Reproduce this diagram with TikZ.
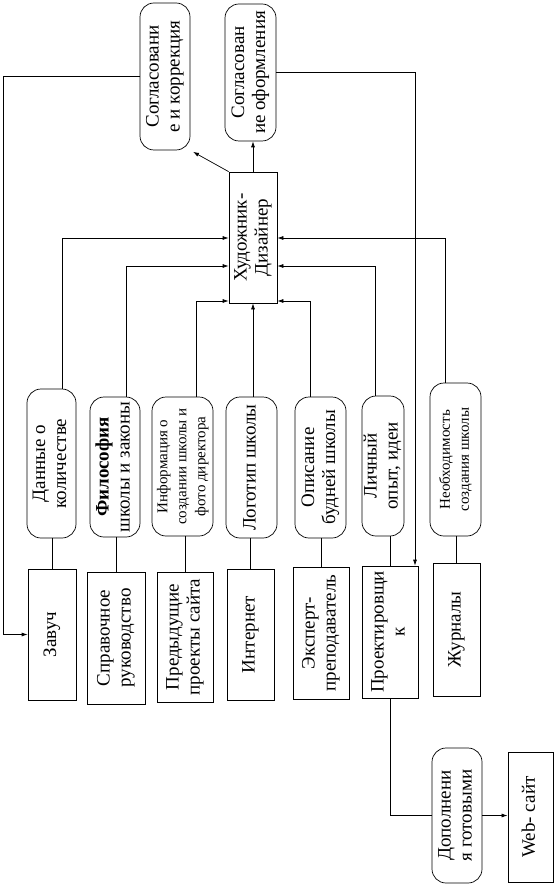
\documentclass[tikz,border=0pt]{standalone}
\usepackage{fontspec}
\setmainfont{Liberation Serif}
\usetikzlibrary{arrows.meta}
\newcommand{\rt}[1]{\rotatebox{90}{\begin{tabular}{@{}c@{}}#1\end{tabular}}}
\begin{document}
\begin{tikzpicture}[x=1pt,y=-1pt, line width=0.7pt,
  rbox/.style={draw, rounded corners=14pt, inner sep=0pt, align=center},
  sbox/.style={draw, inner sep=0pt, align=center},
  big/.style={font=\fontsize{19}{21}\selectfont},
  small/.style={font=\fontsize{15}{19}\selectfont},
  arr/.style={-{Latex[length=6pt,width=4pt]}}]
\useasboundingbox (0,0) rectangle (554,885);
% top
\node[rbox,big,minimum width=50pt,minimum height=147pt] (korr) at (165,76.5) {\rt{Согласовани\\е и коррекция}};
\node[rbox,big,minimum width=51pt,minimum height=137pt] (oform) at (250.5,72.5) {\rt{Согласован\\ие оформления}};
\node[sbox,big,minimum width=48pt,minimum height=131pt] (artist) at (253,237.5) {\rt{Художник-\\Дизайнер}};
% rounded inputs
\node[rbox,big,minimum width=49pt,minimum height=149pt] (dannye) at (51.5,463.5) {\rt{Данные о\\количестве}};
\node[rbox,big,minimum width=50pt,minimum height=140pt] (filos) at (115,467) {\rt{\textbf{Философия}\\школы и законы}};
\node[rbox,small,minimum width=61pt,minimum height=139pt] (info) at (182.5,466.5) {\rt{Информация о\\создании школы и\\фото директора}};
\node[rbox,big,minimum width=51pt,minimum height=141pt] (logo) at (251.5,467.5) {\rt{Логотип школы}};
\node[rbox,big,minimum width=51pt,minimum height=141pt] (opis) at (320.5,467.5) {\rt{Описание\\будней школы}};
\node[rbox,big,minimum width=42pt,minimum height=140pt] (lichn) at (383,466) {\rt{Личный\\опыт, идеи}};
\node[rbox,small,minimum width=51pt,minimum height=153pt] (neobh) at (455.5,459.5) {\rt{Необходимость\\создания школы}};
% sources
\node[sbox,big,minimum width=48pt,minimum height=131pt] (zavuch) at (52,634.5) {\rt{Завуч}};
\node[sbox,big,minimum width=58pt,minimum height=132pt] (sprav) at (116,638) {\rt{Справочное\\руководство}};
\node[sbox,big,minimum width=56pt,minimum height=130pt] (pred) at (185,637) {\rt{Предыдущие\\проекты сайта}};
\node[sbox,big,minimum width=47pt,minimum height=131pt] (inet) at (250.5,634.5) {\rt{Интернет}};
\node[sbox,big,minimum width=56pt,minimum height=132pt] (expert) at (321,633) {\rt{Эксперт-\\преподаватель}};
\node[sbox,big,minimum width=56pt,minimum height=132pt] (proekt) at (390,632) {\rt{Проектировщи\\к}};
\node[sbox,big,minimum width=47pt,minimum height=133pt] (zhurn) at (456.5,629.5) {\rt{Журналы}};
% bottom
\node[rbox,big,minimum width=50pt,minimum height=135pt] (dopoln) at (457,815.5) {\rt{Дополнени\\я готовыми}};
\node[sbox,big,minimum width=45.4pt,minimum height=130pt] (web) at (530.6,817) {\rt{Web- сайт}};
% helper coordinates
\coordinate (lft) at (3,0);
\coordinate (rgt) at (415,0);
% outputs of artist
\draw[arr] (korr.west) -- (korr.west -| lft) |- (zavuch.west);
\draw[arr] (oform.east) -| (rgt |- proekt.north);
\draw[arr, shorten >=3pt] (artist.north west) -- (korr.south east);
\draw[arr] (artist.north) -- (artist.north |- oform.south);
% inputs to artist
\draw[arr] (dannye.north -| 62,0) |- (artist.west |- 0,238);
\draw[arr] (filos.north -| 126,0) |- (artist.west |- 0,266);
\draw[arr] (info.north -| 196,0) |- (artist.west |- 0,301);
\draw[arr] (artist.south |- logo.north) -- (artist.south);
\draw[arr] (opis.north -| 310,0) |- (artist.east |- 0,301);
\draw[arr] (lichn.north -| 375,0) |- (artist.east |- 0,266);
\draw[arr] (neobh.north -| 445,0) |- (artist.east |- 0,238);
% source links
\foreach \a/\b in {zavuch/dannye, sprav/filos, pred/info, inet/logo, expert/opis, proekt/lichn, zhurn/neobh}
  \draw (\a.north) -- (\a.north |- \b.south);
\draw (proekt.south) |- (dopoln.west);
\draw[arr] (dopoln.east) -- (web.west |- dopoln.east);
\end{tikzpicture}
\end{document}
